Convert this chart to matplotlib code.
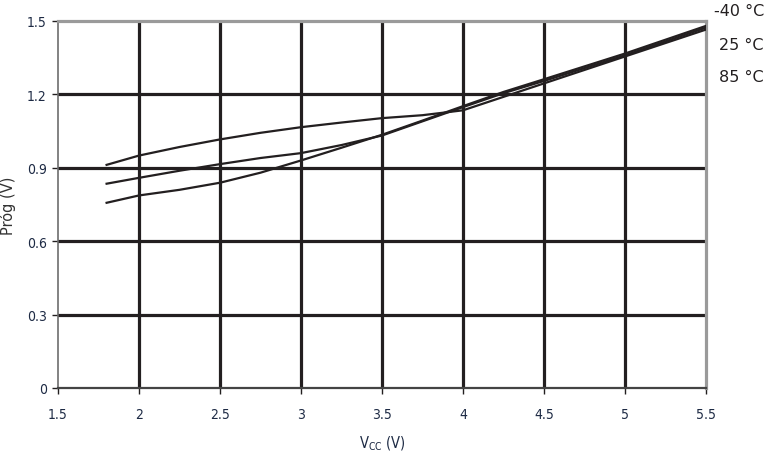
import matplotlib
matplotlib.use("Agg")
import matplotlib.pyplot as plt

vcc = [1.8, 2.0, 2.25, 2.5, 2.75, 3.0, 3.25, 3.5, 3.75, 4.0, 4.25, 4.5, 5.0, 5.5]
prog_a = [0.912, 0.950, 0.985, 1.016, 1.043, 1.066, 1.085, 1.103, 1.115, 1.135, 1.190, 1.245, 1.355, 1.465]
prog_b = [0.835, 0.859, 0.888, 0.915, 0.940, 0.960, 0.993, 1.032, 1.090, 1.148, 1.205, 1.255, 1.360, 1.473]
prog_c = [0.757, 0.787, 0.810, 0.839, 0.880, 0.930, 0.982, 1.035, 1.093, 1.152, 1.210, 1.262, 1.367, 1.480]
temp_labels = ["-40 °C", "25 °C", "85 °C"]
xticks = [1.5, 2, 2.5, 3, 3.5, 4, 4.5, 5, 5.5]
xtick_labels = ["1.5", "2", "2.5", "3", "3.5", "4", "4.5", "5", "5.5"]
yticks = [0, 0.3, 0.6, 0.9, 1.2, 1.5]
ytick_labels = ["0", "0.3", "0.6", "0.9", "1.2", "1.5"]

tick_color = '#1d2a44'
tfont = dict(family='DejaVu Sans', stretch='condensed', size=10, color=tick_color)

fig = plt.figure(figsize=(7.67, 4.56), dpi=100)
ax = fig.add_axes([58/767, 1-389/456, (706-58)/767, (389-22)/456])

for v in xticks[1:-1]:
    ax.axvline(v, color='#231f20', lw=2.3, zorder=1)
for v in yticks[1:-1]:
    ax.axhline(v, color='#231f20', lw=2.3, zorder=1)

for ys in (prog_a, prog_b, prog_c):
    ax.plot(vcc, ys, color='#231f20', lw=1.6, zorder=3)

ax.set_xlim(1.5, 5.5)
ax.set_ylim(0, 1.5)
ax.set_xticks(xticks)
ax.set_xticklabels(xtick_labels, **tfont)
ax.set_yticks(yticks)
ax.set_yticklabels(ytick_labels, **tfont)
ax.tick_params(axis='x', length=4, width=1, color='#231f20', pad=10)
ax.tick_params(axis='y', length=4, width=1, color='#231f20', pad=4)

ax.spines['top'].set_color('#9a9a9a')
ax.spines['top'].set_linewidth(2.3)
ax.spines['right'].set_color('#9a9a9a')
ax.spines['right'].set_linewidth(2.3)
ax.spines['left'].set_color('#6d6d6d')
ax.spines['left'].set_linewidth(1.2)
ax.spines['bottom'].set_color('#444444')
ax.spines['bottom'].set_linewidth(1.6)

ax.set_ylabel("Próg (V)", fontsize=10.5, color='#333333', labelpad=8)
ax.set_xlabel("V$_{\\mathregular{CC}}$ (V)", family='DejaVu Sans', stretch='condensed',
              fontsize=10.5, color=tick_color, labelpad=9)

for i, t in enumerate(temp_labels):
    fig.text(714/767 if i == 0 else 719/767, 1 - (12 + 33*i)/456, t, fontsize=11.5,
             color='#231f20', va='center', ha='left')

fig.savefig("out.png", dpi=100)
